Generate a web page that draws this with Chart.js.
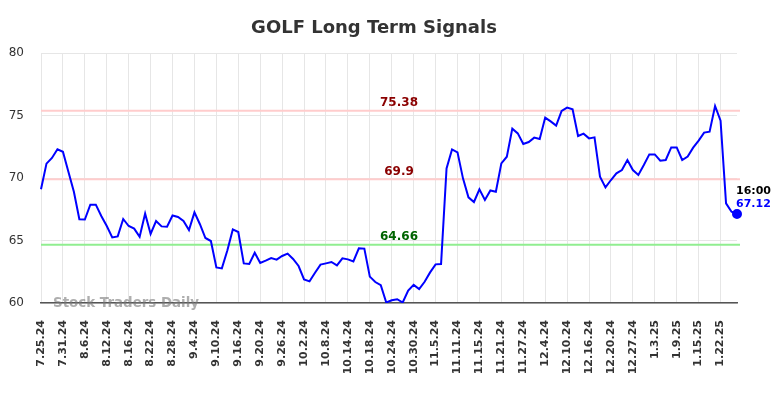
<!DOCTYPE html>
<html>
<head>
<meta charset="utf-8">
<title>GOLF Long Term Signals</title>
<script src="https://cdn.jsdelivr.net/npm/chart.js@4.4.1/dist/chart.umd.min.js"></script>
<style>
    html, body { margin: 0; padding: 0; background: #fff; }
    #wrap { width: 784px; height: 398px; }
</style>
</head>
<body>
<div id="wrap"><canvas id="signalsChart" width="784" height="398"></canvas></div>
<script>
// trading days shown on the x axis
const dates = [
    '7.25.24', '7.26.24', '7.29.24', '7.30.24', '7.31.24', '8.1.24', '8.2.24', '8.5.24',
    '8.6.24', '8.7.24', '8.8.24', '8.9.24', '8.12.24', '8.13.24', '8.14.24', '8.15.24',
    '8.16.24', '8.19.24', '8.20.24', '8.21.24', '8.22.24', '8.23.24', '8.26.24', '8.27.24',
    '8.28.24', '8.29.24', '8.30.24', '9.3.24', '9.4.24', '9.5.24', '9.6.24', '9.9.24',
    '9.10.24', '9.11.24', '9.12.24', '9.13.24', '9.16.24', '9.17.24', '9.18.24', '9.19.24',
    '9.20.24', '9.23.24', '9.24.24', '9.25.24', '9.26.24', '9.27.24', '9.30.24', '10.1.24',
    '10.2.24', '10.3.24', '10.4.24', '10.7.24', '10.8.24', '10.9.24', '10.10.24', '10.11.24',
    '10.14.24', '10.15.24', '10.16.24', '10.17.24', '10.18.24', '10.21.24', '10.22.24', '10.23.24',
    '10.24.24', '10.25.24', '10.28.24', '10.29.24', '10.30.24', '10.31.24', '11.1.24', '11.4.24',
    '11.5.24', '11.6.24', '11.7.24', '11.8.24', '11.11.24', '11.12.24', '11.13.24', '11.14.24',
    '11.15.24', '11.18.24', '11.19.24', '11.20.24', '11.21.24', '11.22.24', '11.25.24', '11.26.24',
    '11.27.24', '11.29.24', '12.2.24', '12.3.24', '12.4.24', '12.5.24', '12.6.24', '12.9.24',
    '12.10.24', '12.11.24', '12.12.24', '12.13.24', '12.16.24', '12.17.24', '12.18.24', '12.19.24',
    '12.20.24', '12.23.24', '12.24.24', '12.26.24', '12.27.24', '12.30.24', '12.31.24', '1.2.25',
    '1.3.25', '1.6.25', '1.7.25', '1.8.25', '1.9.25', '1.10.25', '1.13.25', '1.14.25',
    '1.15.25', '1.16.25', '1.17.25', '1.21.25', '1.22.25', '1.23.25', '1.24.25', '1.27.25'
];

const prices = [
    69.10, 71.15, 71.60, 72.30, 72.10, 70.50, 68.90, 66.70,
    66.68, 67.87, 67.87, 66.96, 66.16, 65.25, 65.33, 66.72,
    66.16, 65.95, 65.30, 67.15, 65.52, 66.56, 66.13, 66.10,
    67.00, 66.88, 66.56, 65.84, 67.25, 66.30, 65.20, 64.96,
    62.85, 62.77, 64.20, 65.89, 65.68, 63.17, 63.12, 64.02,
    63.20, 63.39, 63.60, 63.47, 63.76, 63.95, 63.52, 62.96,
    61.89, 61.73, 62.42, 63.07, 63.17, 63.28, 63.01, 63.57,
    63.49, 63.33, 64.37, 64.35, 62.11, 61.68, 61.43, 60.04,
    60.22, 60.30, 60.04, 61.00, 61.45, 61.12, 61.70, 62.45,
    63.09, 63.12, 70.77, 72.29, 72.05, 69.97, 68.45, 68.08,
    69.10, 68.24, 69.00, 68.90, 71.17, 71.70, 73.95, 73.57,
    72.72, 72.88, 73.23, 73.12, 74.83, 74.53, 74.19, 75.36,
    75.63, 75.50, 73.36, 73.55, 73.17, 73.25, 70.10, 69.25,
    69.84, 70.37, 70.64, 71.44, 70.64, 70.24, 71.04, 71.89,
    71.89, 71.39, 71.44, 72.45, 72.45, 71.44, 71.71, 72.43,
    72.99, 73.63, 73.71, 75.76, 74.59, 67.97, 67.30, 67.12
];

const tickLabels = [
    '7.25.24', '7.31.24', '8.6.24', '8.12.24', '8.16.24', '8.22.24', '8.28.24', '9.4.24',
    '9.10.24', '9.16.24', '9.20.24', '9.26.24', '10.2.24', '10.8.24', '10.14.24', '10.18.24',
    '10.24.24', '10.30.24', '11.5.24', '11.11.24', '11.15.24', '11.21.24', '11.27.24', '12.4.24',
    '12.10.24', '12.16.24', '12.20.24', '12.27.24', '1.3.25', '1.9.25', '1.15.25', '1.22.25'
];

const yTicks = [60, 65, 70, 75, 80];

// signal levels: value, text colour, line colour
const signalLevels = [75.38, 69.9, 64.66];
const signalTextColors = ['#8b0000', '#8b0000', '#006400'];
const signalLineColors = ['#ffcccc', '#ffcccc', '#90ee90'];

const lastTime = '16:00';

const FONT = "'DejaVu Sans', sans-serif";

const overlayPlugin = {
    id: 'overlay',
    beforeDatasetsDraw: function(chart) {
        var ctx = chart.ctx;
        var area = chart.chartArea;
        var y = chart.scales.y;
        ctx.save();
        signalLevels.forEach(function(level, i) {
            var py = y.getPixelForValue(level);
            ctx.strokeStyle = signalLineColors[i];
            ctx.lineWidth = 2;
            ctx.beginPath();
            ctx.moveTo(area.left, py);
            ctx.lineTo(area.right + 3, py);
            ctx.stroke();

            ctx.fillStyle = signalTextColors[i];
            ctx.font = 'bold 12px ' + FONT;
            ctx.textAlign = 'center';
            ctx.textBaseline = 'alphabetic';
            ctx.fillText(String(level), 399, py - 4.5);
        });
        ctx.restore();
    },
    afterDraw: function(chart) {
        var ctx = chart.ctx;
        var x = chart.scales.x;
        var y = chart.scales.y;
        ctx.save();

        // title
        ctx.fillStyle = '#333';
        ctx.font = 'bold 18px ' + FONT;
        ctx.textAlign = 'center';
        ctx.textBaseline = 'alphabetic';
        ctx.fillText('GOLF Long Term Signals', 374, 33);

        // watermark
        ctx.fillStyle = 'rgba(120, 120, 120, 0.6)';
        ctx.font = 'bold 13.4px ' + FONT;
        ctx.textAlign = 'left';
        ctx.fillText('Stock Traders Daily', 53, 307);

        // last value note
        var last = prices.length - 1;
        var px = x.getPixelForValue(last);
        ctx.font = 'bold 11px ' + FONT;
        ctx.fillStyle = '#000';
        ctx.fillText(lastTime, px - 1, 194);
        ctx.fillStyle = '#0000ff';
        ctx.fillText(prices[last].toFixed(2), px - 1, y.getPixelForValue(prices[last]) - 7);

        ctx.restore();
    }
};

function initChart() {
    var canvas = document.getElementById('signalsChart');
    if (!canvas) return;

    new Chart(canvas, {
        type: 'line',
        data: {
            labels: dates,
            datasets: [{
                label: 'GOLF',
                data: prices,
                borderColor: '#0000ff',
                backgroundColor: '#0000ff',
                borderWidth: 2,
                tension: 0,
                fill: false,
                pointRadius: function(c) { return c.dataIndex === prices.length - 1 ? 4 : 0; },
                pointHoverRadius: 0,
            }],
        },
        options: {
            responsive: false,
            animation: false,
            devicePixelRatio: 1,
            layout: {
                padding: { top: 53, right: 47, left: 0, bottom: 0 },
            },
            plugins: {
                legend: { display: false },
                title: { display: false },
                tooltip: { enabled: false },
            },
            scales: {
                x: {
                    type: 'category',
                    offset: false,
                    afterFit: function(scale) { scale.height = 95; },
                    grid: {
                        color: '#e6e6e6',
                        lineWidth: 1,
                        drawTicks: false,
                    },
                    border: { display: true, color: '#555', width: 1.5 },
                    ticks: {
                        autoSkip: false,
                        minRotation: 90,
                        maxRotation: 90,
                        padding: 17,
                        color: '#333',
                        font: { family: FONT, size: 11, weight: 'bold' },
                        callback: function(value, index) {
                            var d = dates[index];
                            return tickLabels.indexOf(d) >= 0 ? d : null;
                        },
                    },
                },
                y: {
                    min: yTicks[0],
                    max: yTicks[yTicks.length - 1],
                    afterFit: function(scale) { scale.width = 41; },
                    afterBuildTicks: function(scale) {
                        scale.ticks = yTicks.map(function(v) { return { value: v }; });
                    },
                    grid: {
                        color: '#e6e6e6',
                        lineWidth: 1,
                        drawTicks: false,
                    },
                    border: { display: false },
                    ticks: {
                        padding: 17,
                        color: '#333',
                        font: { family: FONT, size: 12 },
                    },
                },
            },
        },
        plugins: [overlayPlugin],
    });
}

if (document.readyState === 'loading') {
    document.addEventListener('DOMContentLoaded', initChart);
} else {
    initChart();
}
</script>
</body>
</html>
